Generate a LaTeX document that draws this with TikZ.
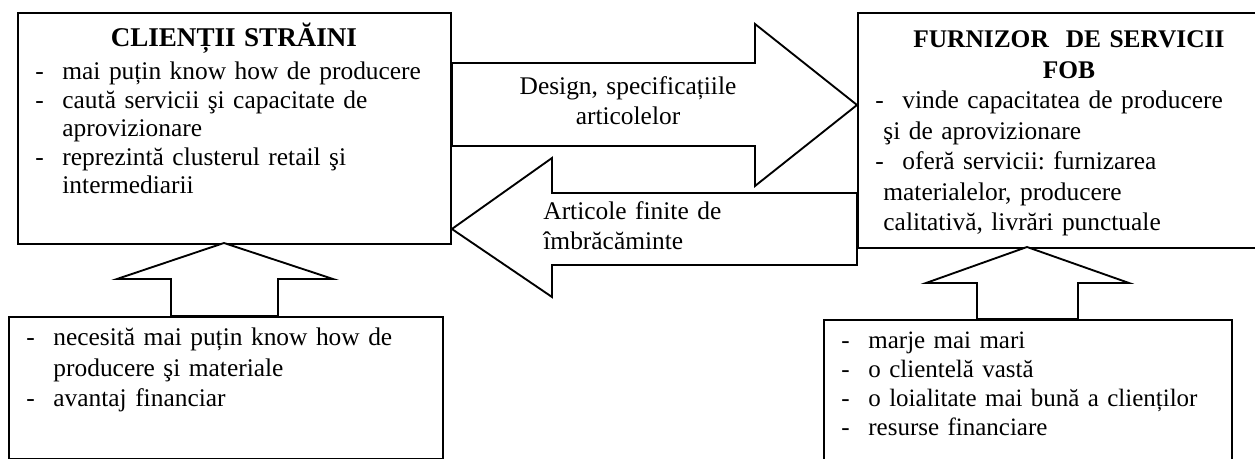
\documentclass[tikz,border=0pt]{standalone}
\usepackage{fontspec}
\setmainfont{Liberation Serif}
\usetikzlibrary{positioning,calc}
\frenchspacing

\newdimen\pxu
\pxu=0.48pt
% item with a dash; #1 = indent of the wrapped lines
\newcommand{\itm}[2][45\pxu]{\noindent\hangindent=#1\hangafter=1\makebox[45\pxu][l]{\hspace{18\pxu}-}#2\par}

\tikzset{
  box/.style={draw,line width=0.9pt,inner sep=0pt,anchor=north west},
  boxtext/.style={inner sep=0pt,anchor=base west,align=left},
  blockarrow/.style={draw,line width=0.9pt,fill=white,line join=miter},
  arrowtext/.style={inner sep=0pt,anchor=base,font=\fontsize{12.2}{14.4}\selectfont}
}

\begin{document}
\begin{tikzpicture}[x=0.48pt,y=-0.48pt]
\useasboundingbox (0,0) rectangle (1255,459);
\clip (0,0) rectangle (1255,459);

% the four boxes
\node[box,minimum width=433*\pxu,minimum height=231*\pxu](clienti) at (17,12) {};
\node[box,minimum width=423*\pxu,minimum height=235*\pxu](furnizor) at (857,12) {};
\node[box,minimum width=434*\pxu,minimum height=142*\pxu](necesita) at (8,316) {};
\node[box,minimum width=408*\pxu,minimum height=170*\pxu](avantaje) at (823,319) {};

% block arrows between the boxes
\draw[blockarrow] (clienti.east |- 0,63) -- (755,63) -- (755,24) -- (furnizor.west |- 0,105)
  -- (755,186) -- (755,146) -- (clienti.east |- 0,146) -- cycle;
\draw[blockarrow] (furnizor.west |- 0,193) -- (552,193) -- (552,158) -- (clienti.east |- 0,229)
  -- (552,297) -- (552,265) -- (furnizor.west |- 0,265) -- cycle;
\draw[blockarrow] (171,316) -- (171,279) -- (117,279) -- (224,243)
  -- (333,279) -- (278,279) -- (278,316) -- cycle;
\draw[blockarrow] (977,319) -- (977,283) -- (926,283) -- (1027,247)
  -- (1129,283) -- (1078,283) -- (1078,319) -- cycle;

% texts
\node[boxtext,text width=433*\pxu,font=\fontsize{12.2}{13.7}\selectfont](clienti text) at (17,47) {%
{\centering\fontsize{13}{13.7}\selectfont\bfseries CLIENȚII STRĂINI\par}\vspace{2pt}
\itm{mai puțin know how de producere}
\itm{caută servicii şi capacitate de\newline aprovizionare}
\itm{reprezintă clusterul retail şi\newline intermediarii}};
\node[boxtext,text width=423*\pxu,font=\fontsize{12.2}{14.6}\selectfont](furnizor text) at (857,48) {%
{\centering\bfseries FURNIZOR\ \ DE SERVICII\\FOB\par}
\itm[26\pxu]{vinde capacitatea de producere\newline şi de aprovizionare}
\itm[26\pxu]{oferă servicii: furnizarea\newline materialelor, producere\newline calitativă, livrări punctuale}};
\node[boxtext,text width=434*\pxu,font=\fontsize{12.2}{14.6}\selectfont](necesita text) at (8,346) {%
\itm{necesită mai puțin know how de\newline producere şi materiale}
\itm{avantaj financiar}};
\node[boxtext,text width=408*\pxu,font=\fontsize{12}{13.8}\selectfont](avantaje text) at (823,349) {%
\itm[44\pxu]{marje mai mari}
\itm[44\pxu]{o clientelă vastă}
\itm[44\pxu]{o loialitate mai bună a clienților}
\itm[44\pxu]{resurse financiare}};

\node[arrowtext,text width=250*\pxu,align=center](design) at (628,95) {Design, specificațiile\\articolelor};
\node[arrowtext,text width=200*\pxu,align=left,anchor=base west](articole) at (543,220) {Articole finite de\\îmbrăcăminte};
\end{tikzpicture}
\end{document}
